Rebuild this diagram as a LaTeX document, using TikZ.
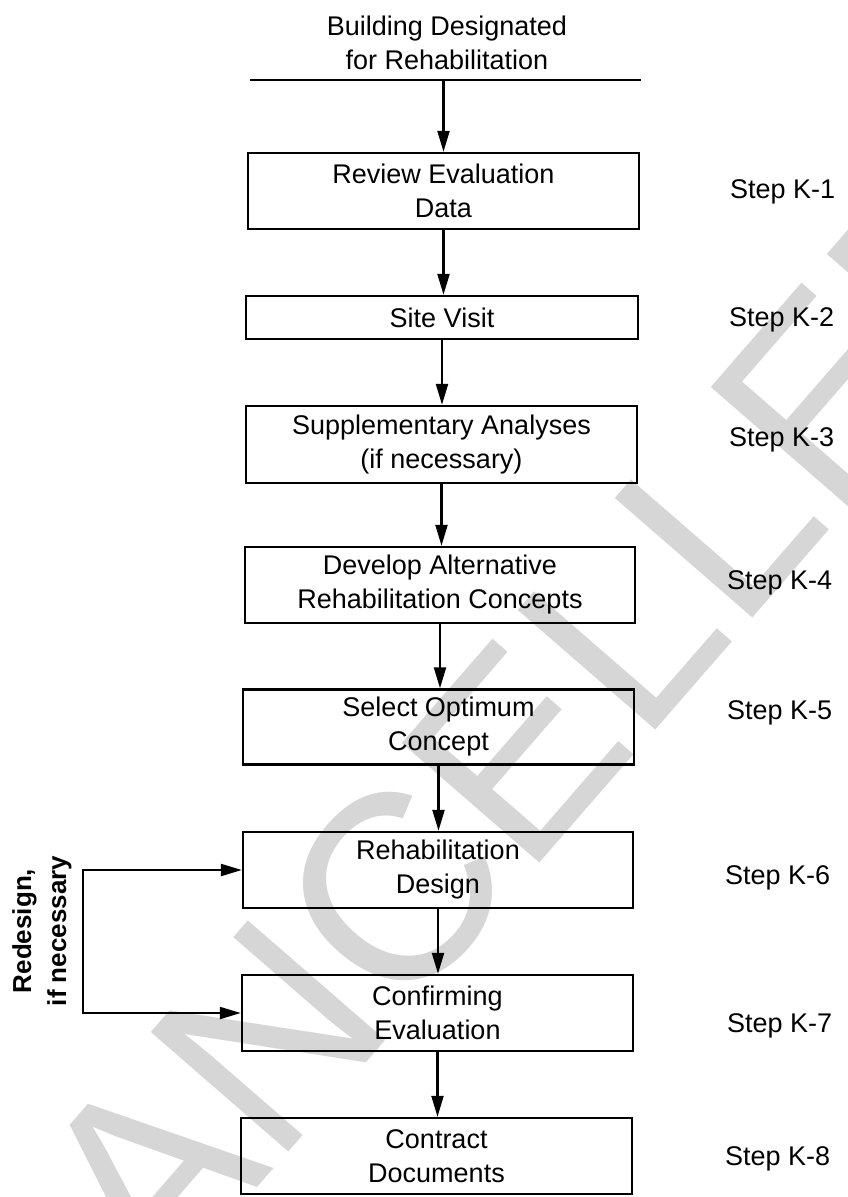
\documentclass[tikz,border=0pt]{standalone}
\usepackage{fontspec}
\setmainfont{Liberation Sans}
\usetikzlibrary{arrows.meta}
\newcommand\boxfont{\fontsize{27}{34}\selectfont}
\begin{document}
\begin{tikzpicture}[x=1pt,y=-1pt,
  stepbox/.style={draw, line width=2.4pt, inner sep=0pt, align=center, font=\boxfont},
  steplabel/.style={anchor=west, inner sep=0pt, font=\boxfont},
  arr/.style={line width=2.2pt, -{Triangle[width=12pt,length=21pt]}},
  plain/.style={line width=2.2pt},
  wm/.style={text=black!16, inner sep=0pt, font=\fontsize{265}{265}\selectfont}]
\useasboundingbox (0,0) rectangle (847,1197);
% watermark
\node[wm, rotate=49] (wmark) at (486,786) {CANCELLED};
% title
\node[align=center, inner sep=0pt, font=\boxfont] (title) at (447,43) {Building Designated\\for Rehabilitation};
\coordinate (tl) at (250,80);
\coordinate (tr) at (641,80);
\draw[plain] (tl) -- (tr);
% boxes
\node[stepbox, minimum width=391pt, minimum height=76pt] (b1) at (443.5,191) {Review Evaluation\\Data};
\node[stepbox, minimum width=392pt, minimum height=43pt] (b2) at (442,317.5) {Site Visit};
\node[stepbox, minimum width=391pt, minimum height=77pt] (b3) at (441.5,444.5) {Supplementary Analyses\\(if necessary)};
\node[stepbox, minimum width=390pt, minimum height=76pt] (b4) at (440,585) {Develop Alternative\\Rehabilitation Concepts};
\node[stepbox, minimum width=391pt, minimum height=75pt] (b5) at (438.5,727) {Select Optimum\\Concept};
\node[stepbox, minimum width=390pt, minimum height=76pt] (b6) at (438,870) {Rehabilitation\\Design};
\node[stepbox, minimum width=391pt, minimum height=76pt] (b7) at (437.5,1013) {Confirming\\Evaluation};
\node[stepbox, minimum width=391pt, minimum height=76pt] (b8) at (436.5,1156) {Contract\\Documents};
% step labels
\node[steplabel] (k1) at (730,192) {Step K-1};
\node[steplabel] (k2) at (729,320) {Step K-2};
\node[steplabel] (k3) at (729,440) {Step K-3};
\node[steplabel] (k4) at (727,583) {Step K-4};
\node[steplabel] (k5) at (727,713) {Step K-5};
\node[steplabel] (k6) at (725,878) {Step K-6};
\node[steplabel] (k7) at (727,1026) {Step K-7};
\node[steplabel] (k8) at (725,1159) {Step K-8};
% arrows
\draw[arr] (b1.north |- tl) -- (b1.north);
\draw[arr] (b1.south) -- (b1.south |- b2.north);
\draw[arr] (b2.south) -- (b2.south |- b3.north);
\draw[arr] (b3.south) -- (b3.south |- b4.north);
\draw[arr] (b4.south) -- (b4.south |- b5.north);
\draw[arr] (b5.south) -- (b5.south |- b6.north);
\draw[arr] (b6.south) -- (b6.south |- b7.north);
\draw[arr] (b7.south) -- (b7.south |- b8.north);
% redesign loop
\coordinate (lp) at (83,940);
\draw[line width=2.2pt, {Triangle[width=12pt,length=21pt]}-{Triangle[width=12pt,length=21pt]}]
  (b6.west) -- (b6.west -| lp) -- (b7.west -| lp) -- (b7.west);
\node[rotate=90, align=center, inner sep=0pt, font=\fontsize{26}{35}\selectfont\bfseries] (rd) at (42,931) {Redesign,\\if necessary};
\end{tikzpicture}
\end{document}
